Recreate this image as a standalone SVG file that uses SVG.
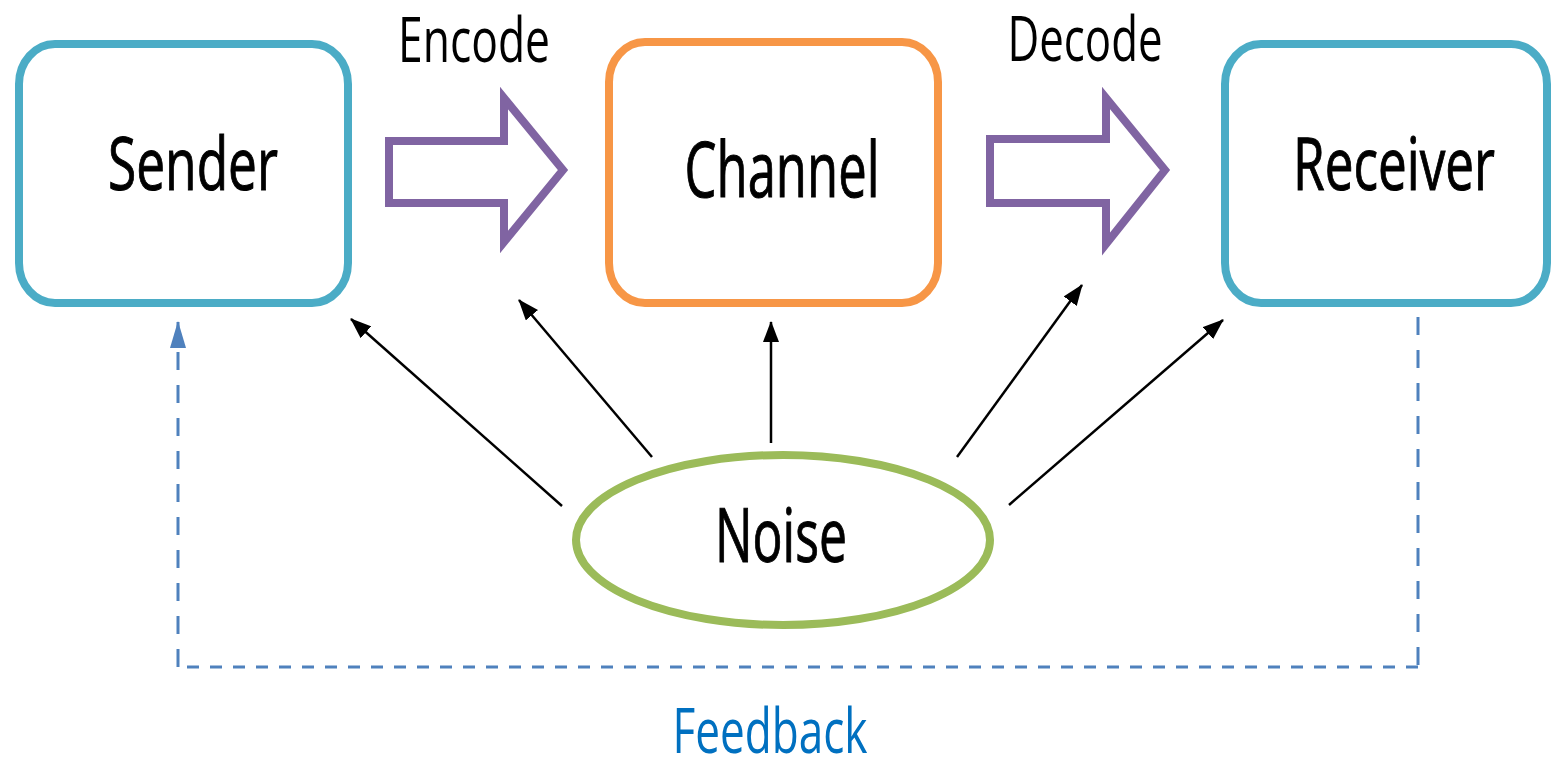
<svg xmlns="http://www.w3.org/2000/svg" width="1553" height="759" viewBox="0 0 1553 759">
<style>
.box{fill:#fff;stroke-width:8}
.lbl{font-family:"Open Sans","Noto Sans","Liberation Sans",sans-serif;fill:#000;text-anchor:middle}
.node{stroke:#000;stroke-width:1}
.fat{fill:#fff;stroke:#8064A2;stroke-width:8;stroke-linejoin:miter}
.noise{stroke:#000;stroke-width:2.5;fill:none;marker-end:url(#ah)}
.fb{stroke:#4F81BD;stroke-width:3;fill:none}
</style>
<defs>
<marker id="ah" markerUnits="userSpaceOnUse" markerWidth="22" markerHeight="16" refX="20" refY="8" orient="auto">
<path d="M0,0 L21,8 L0,16 z" fill="#000"/>
</marker>
<marker id="bh" markerUnits="userSpaceOnUse" markerWidth="28" markerHeight="16" refX="26" refY="8" orient="auto">
<path d="M0,0 L27,8 L0,16 z" fill="#4F81BD"/>
</marker>
</defs>
<rect width="1553" height="759" fill="#fff"/>
<g id="connectors">
<polygon class="fat" points="389,141 504,141 504,98 563,170 504,242 504,203 389,203"/>
<polygon class="fat" points="990,139 1106,139 1106,98 1165,170 1106,244 1106,203 990,203"/>
<line class="noise" x1="562" y1="506" x2="351" y2="319"/>
<line class="noise" x1="652" y1="457" x2="519" y2="300"/>
<line class="noise" x1="771" y1="443" x2="771" y2="322"/>
<line class="noise" x1="957" y1="457" x2="1082" y2="285"/>
<line class="noise" x1="1009" y1="505" x2="1223" y2="320"/>
<path class="fb" d="M1418,317 V667" stroke-dasharray="18 15"/>
<path class="fb" d="M1418,667 H178" stroke-dasharray="12 11" stroke-width="4"/>
<path class="fb" d="M178,667 V322" stroke-dasharray="18 15" marker-end="url(#bh)"/>
</g>
<g id="encode-label"><text class="lbl" x="474" y="62" font-size="62" textLength="152" lengthAdjust="spacingAndGlyphs">Encode</text></g>
<g id="decode-label"><text class="lbl" x="1085" y="61" font-size="62" textLength="155" lengthAdjust="spacingAndGlyphs">Decode</text></g>
<g id="sender">
<rect class="box" x="19" y="44" width="329" height="259" rx="36" ry="40" stroke="#4BACC6"/>
<text class="lbl node" x="193" y="190" font-size="74" textLength="170" lengthAdjust="spacingAndGlyphs">Sender</text>
</g>
<g id="channel">
<rect class="box" x="609" y="42" width="329" height="261" rx="36" ry="40" stroke="#F79646"/>
<text class="lbl node" x="782" y="197" font-size="77" textLength="195" lengthAdjust="spacingAndGlyphs">Channel</text>
</g>
<g id="receiver">
<rect class="box" x="1225" y="44" width="322" height="259" rx="36" ry="40" stroke="#4BACC6"/>
<text class="lbl node" x="1394" y="190" font-size="73" textLength="202" lengthAdjust="spacingAndGlyphs">Receiver</text>
</g>
<g id="noise">
<ellipse cx="783" cy="540" rx="207" ry="85" fill="#fff" stroke="#9BBB59" stroke-width="8"/>
<text class="lbl node" x="781" y="562" font-size="75" textLength="132" lengthAdjust="spacingAndGlyphs">Noise</text>
</g>
<g id="feedback-label"><text class="lbl" x="770" y="753" font-size="63" textLength="195" lengthAdjust="spacingAndGlyphs" style="fill:#0070C0">Feedback</text></g>
</svg>
